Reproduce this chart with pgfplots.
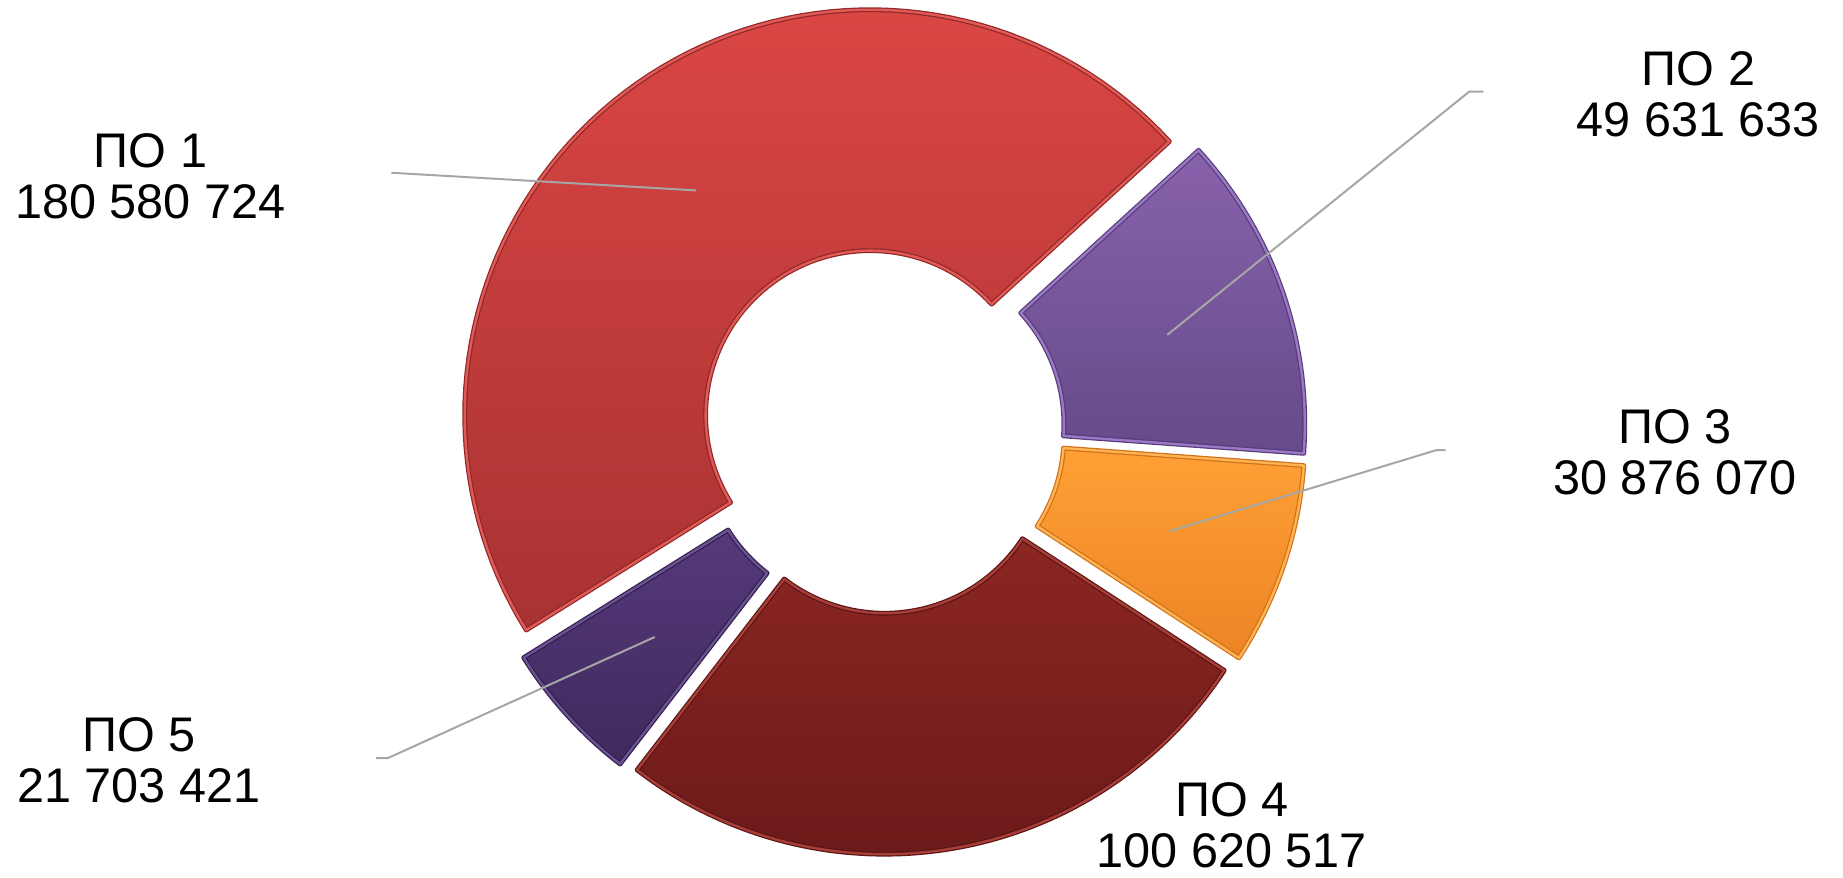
\documentclass[border=0pt]{standalone}
\usepackage{pgfplots}
\pgfplotsset{compat=1.18}
\usepackage{fontspec}
\setmainfont{Liberation Sans}

\definecolor{poAt}{HTML}{DA4644}\definecolor{poAb}{HTML}{A83232}\definecolor{poAd}{HTML}{8E2828}\definecolor{poAl}{HTML}{E25A56}
\definecolor{poBt}{HTML}{8862AC}\definecolor{poBb}{HTML}{664A8A}\definecolor{poBd}{HTML}{553C78}\definecolor{poBl}{HTML}{9A78C4}
\definecolor{poCt}{HTML}{FFA036}\definecolor{poCb}{HTML}{EC8424}\definecolor{poCd}{HTML}{D07018}\definecolor{poCl}{HTML}{FFB454}
\definecolor{poDt}{HTML}{8C2622}\definecolor{poDb}{HTML}{6C1A1A}\definecolor{poDd}{HTML}{5A1414}\definecolor{poDl}{HTML}{A83E38}
\definecolor{poEt}{HTML}{56397C}\definecolor{poEb}{HTML}{3E2A5C}\definecolor{poEd}{HTML}{30204A}\definecolor{poEl}{HTML}{6C5094}
\definecolor{leader}{HTML}{A6A6A6}

% values
\def\vA{180580724}
\def\vB{49631633}
\def\vC{30876070}
\def\vD{100620517}
\def\vE{21703421}
\edef\tot{\fpeval{\vA+\vB+\vC+\vD+\vE}}

% geometry (units, y up)
\def\cx{750}\def\cy{381}
\def\Rout{345}\def\Rin{140}\def\ex{16}
\def\startang{212}

\edef\kA{\fpeval{\startang}}
\edef\kB{\fpeval{\kA-360*\vA/\tot}}
\edef\kC{\fpeval{\kB-360*\vB/\tot}}
\edef\kD{\fpeval{\kC-360*\vC/\tot}}
\edef\kE{\fpeval{\kD-360*\vD/\tot}}
\edef\kF{\fpeval{\kE-360*\vE/\tot}}

\newcommand\donutslice[6]{%
 \edef\lo{\fpeval{#1}}\edef\hi{\fpeval{#2}}%
 \edef\md{\fpeval{(\lo+\hi)/2}}%
 \edef\ox{\fpeval{\cx+\ex*cosd(\md)}}%
 \edef\oy{\fpeval{\cy+\ex*sind(\md)}}%
 \edef\doplot{\noexpand\addplot[top color=#3,bottom color=#4,draw=#5,double=#6,double distance=1.2pt,line width=0.6pt,line join=round,
   variable=\noexpand\t,domain=0:2,samples=161]
  ({\ox+ifthenelse(\noexpand\t<1.001,\Rout,\Rin)*cos(ifthenelse(\noexpand\t<1.001,\lo+(\hi-\lo)*\noexpand\t,\hi-(\hi-\lo)*(\noexpand\t-1.0125)/0.9875))},
   {\oy+ifthenelse(\noexpand\t<1.001,\Rout,\Rin)*sin(ifthenelse(\noexpand\t<1.001,\lo+(\hi-\lo)*\noexpand\t,\hi-(\hi-\lo)*(\noexpand\t-1.0125)/0.9875))}) -- cycle;}%
 \doplot}

\begin{document}
\begin{tikzpicture}
\begin{axis}[hide axis, scale only axis, width=921.5pt, height=439pt,
  xmin=0, xmax=1568, ymin=0, ymax=747, clip=false]
\donutslice{\kB}{\kA}{poAt}{poAb}{poAd}{poAl}
\donutslice{\kC}{\kB}{poBt}{poBb}{poBd}{poBl}
\donutslice{\kD}{\kC}{poCt}{poCb}{poCd}{poCl}
\donutslice{\kE}{\kD}{poDt}{poDb}{poDd}{poDl}
\donutslice{\kF}{\kE}{poEt}{poEb}{poEd}{poEl}

\draw[leader, line width=1pt] (axis cs:333,600) -- (axis cs:592,585);
\draw[leader, line width=1pt] (axis cs:1262,669) -- (axis cs:1250,669) -- (axis cs:993,462);
\draw[leader, line width=1pt] (axis cs:1230,364) -- (axis cs:1222,364) -- (axis cs:995,295);
\draw[leader, line width=1pt] (axis cs:320,102) -- (axis cs:330,102) -- (axis cs:557,205);

\begin{scope}[every node/.style={align=center, font=\fontsize{24.3}{25.5}\selectfont}]
\node at (axis cs:128,597) {ПО 1\\180 580 724};
\node at (axis cs:1445,667) {ПО 2\\49 631 633};
\node at (axis cs:1425,362) {ПО 3\\30 876 070};
\node at (axis cs:1048,45) {ПО 4\\100 620 517};
\node at (axis cs:118,100) {ПО 5\\21 703 421};
\end{scope}
\end{axis}
\pgfresetboundingbox
\path[use as bounding box] (current axis.south west) rectangle (current axis.north east);
\end{tikzpicture}
\end{document}
